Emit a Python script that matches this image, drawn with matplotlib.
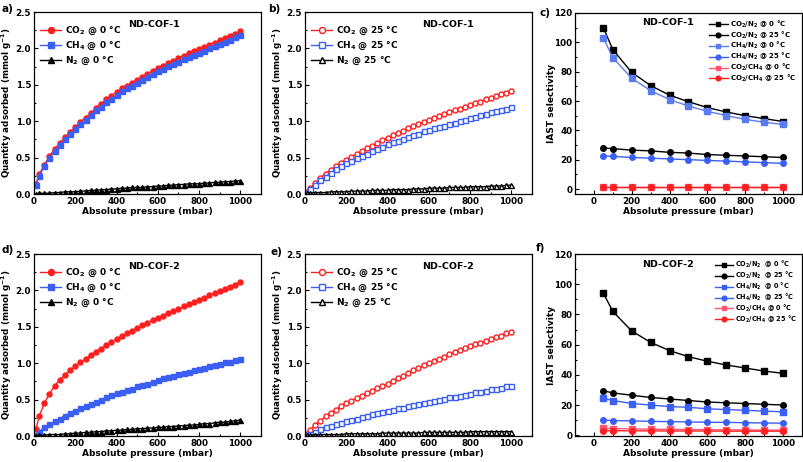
import matplotlib
matplotlib.use("Agg")
import matplotlib.pyplot as plt
from matplotlib.ticker import MultipleLocator, FuncFormatter

plt.rcParams['font.family'] = ['DejaVu Sans']
plt.rcParams['font.weight'] = 'bold'
plt.rcParams['mathtext.default'] = 'bf'

# --- isotherm data (pressure in mbar, uptake in mmol/g) ---
pressure = [10, 25, 50, 75, 100, 125, 150, 175, 200, 225, 250, 275, 300, 325, 350,
            375, 400, 425, 450, 475, 500, 525, 550, 575, 600, 625, 650, 675, 700,
            725, 750, 775, 800, 825, 850, 875, 900, 925, 950, 975, 1000]

cof1_co2_0 = [0.14, 0.27, 0.40, 0.52, 0.62, 0.70, 0.78, 0.85, 0.92, 0.99, 1.05, 1.11, 1.18, 1.24,
              1.30, 1.35, 1.40, 1.45, 1.49, 1.53, 1.57, 1.61, 1.65, 1.69, 1.73, 1.76, 1.80, 1.83,
              1.87, 1.90, 1.93, 1.96, 1.99, 2.02, 2.05, 2.08, 2.11, 2.14, 2.17, 2.20, 2.24]
cof1_ch4_0 = [0.12, 0.25, 0.38, 0.50, 0.59, 0.67, 0.75, 0.82, 0.89, 0.96, 1.02, 1.08, 1.15, 1.20,
              1.26, 1.31, 1.36, 1.41, 1.45, 1.49, 1.53, 1.57, 1.61, 1.65, 1.69, 1.72, 1.76, 1.79,
              1.82, 1.85, 1.88, 1.91, 1.94, 1.97, 2.00, 2.03, 2.06, 2.09, 2.12, 2.15, 2.18]
cof1_n2_0 = [0.00, 0.01, 0.01, 0.01, 0.02, 0.02, 0.03, 0.03, 0.03, 0.04, 0.04, 0.05, 0.05, 0.06,
             0.06, 0.07, 0.07, 0.08, 0.08, 0.09, 0.09, 0.09, 0.10, 0.10, 0.11, 0.11, 0.12, 0.12,
             0.13, 0.13, 0.14, 0.14, 0.14, 0.15, 0.15, 0.16, 0.16, 0.17, 0.17, 0.18, 0.18]

cof1_co2_25 = [0.03, 0.08, 0.15, 0.22, 0.28, 0.33, 0.38, 0.43, 0.47, 0.51, 0.55, 0.59, 0.63, 0.66,
               0.70, 0.74, 0.77, 0.81, 0.84, 0.87, 0.90, 0.93, 0.96, 0.99, 1.02, 1.04, 1.07, 1.10,
               1.12, 1.15, 1.17, 1.20, 1.22, 1.25, 1.27, 1.30, 1.32, 1.34, 1.37, 1.39, 1.42]
cof1_ch4_25 = [0.02, 0.07, 0.13, 0.19, 0.24, 0.29, 0.34, 0.38, 0.42, 0.45, 0.49, 0.52, 0.55, 0.59,
               0.62, 0.65, 0.68, 0.71, 0.73, 0.76, 0.78, 0.81, 0.83, 0.86, 0.88, 0.90, 0.92, 0.94,
               0.96, 0.98, 1.00, 1.02, 1.04, 1.06, 1.08, 1.10, 1.12, 1.14, 1.16, 1.17, 1.19]
cof1_n2_25 = [0.01, 0.01, 0.02, 0.02, 0.02, 0.03, 0.03, 0.03, 0.03, 0.04, 0.04, 0.04, 0.04, 0.05,
              0.05, 0.05, 0.05, 0.06, 0.06, 0.06, 0.06, 0.07, 0.07, 0.07, 0.08, 0.08, 0.08, 0.08,
              0.09, 0.09, 0.09, 0.09, 0.10, 0.10, 0.10, 0.10, 0.11, 0.11, 0.11, 0.12, 0.12]

cof2_co2_0 = [0.10, 0.27, 0.45, 0.58, 0.69, 0.77, 0.84, 0.90, 0.96, 1.01, 1.06, 1.11, 1.16, 1.20,
              1.25, 1.29, 1.33, 1.37, 1.41, 1.44, 1.48, 1.52, 1.55, 1.59, 1.62, 1.65, 1.69, 1.72,
              1.75, 1.78, 1.81, 1.84, 1.87, 1.90, 1.93, 1.96, 1.99, 2.02, 2.05, 2.08, 2.12]
cof2_ch4_0 = [0.02, 0.06, 0.12, 0.16, 0.20, 0.24, 0.28, 0.32, 0.35, 0.38, 0.41, 0.44, 0.47, 0.50,
              0.53, 0.56, 0.59, 0.61, 0.63, 0.65, 0.68, 0.70, 0.72, 0.74, 0.77, 0.79, 0.81, 0.83,
              0.85, 0.87, 0.88, 0.90, 0.92, 0.94, 0.96, 0.98, 0.99, 1.01, 1.02, 1.04, 1.06]
cof2_n2_0 = [0.00, 0.01, 0.01, 0.02, 0.02, 0.02, 0.03, 0.03, 0.04, 0.04, 0.05, 0.05, 0.06, 0.06,
             0.07, 0.07, 0.08, 0.08, 0.09, 0.09, 0.10, 0.10, 0.11, 0.11, 0.12, 0.12, 0.13, 0.13,
             0.14, 0.14, 0.15, 0.15, 0.16, 0.17, 0.17, 0.18, 0.19, 0.19, 0.20, 0.21, 0.22]

cof2_co2_25 = [0.03, 0.08, 0.15, 0.21, 0.27, 0.32, 0.36, 0.41, 0.45, 0.48, 0.52, 0.55, 0.59, 0.62,
               0.66, 0.69, 0.72, 0.76, 0.79, 0.83, 0.86, 0.90, 0.93, 0.97, 1.00, 1.03, 1.06, 1.09,
               1.12, 1.15, 1.18, 1.21, 1.23, 1.26, 1.28, 1.31, 1.33, 1.36, 1.38, 1.41, 1.43]
cof2_ch4_25 = [0.01, 0.03, 0.06, 0.09, 0.12, 0.14, 0.16, 0.18, 0.20, 0.22, 0.24, 0.26, 0.28, 0.30,
               0.32, 0.33, 0.35, 0.36, 0.38, 0.39, 0.41, 0.42, 0.44, 0.45, 0.47, 0.48, 0.50, 0.51,
               0.53, 0.54, 0.55, 0.57, 0.58, 0.60, 0.61, 0.62, 0.64, 0.65, 0.66, 0.68, 0.69]
cof2_n2_25 = [0.01, 0.01, 0.02, 0.02, 0.02, 0.02, 0.02, 0.02, 0.03, 0.03, 0.03, 0.03, 0.03, 0.03,
              0.03, 0.04, 0.04, 0.04, 0.04, 0.04, 0.04, 0.04, 0.04, 0.05, 0.05, 0.05, 0.05, 0.05,
              0.05, 0.05, 0.05, 0.05, 0.06, 0.06, 0.06, 0.06, 0.06, 0.06, 0.06, 0.06, 0.06]

# --- IAST selectivity data ---
sel_pressure = [50, 100, 200, 300, 400, 500, 600, 700, 800, 900, 1000]

cof1_co2n2_0 = [110, 95, 79.5, 70.5, 64, 59.5, 55.5, 52.5, 50, 48, 46]
cof1_co2n2_25 = [28, 27.5, 26.5, 26, 25, 24.5, 23.5, 23, 22.5, 22, 21.5]
cof1_ch4n2_0 = [103, 89.5, 75.5, 67, 61, 56.5, 53, 50, 47.5, 45.5, 44]
cof1_ch4n2_25 = [22.5, 22.3, 21.5, 21, 20.5, 20, 19.5, 19, 18.5, 18, 17.5]
cof1_co2ch4_0 = [1.1, 1.1, 1.1, 1.1, 1.1, 1.1, 1.1, 1.1, 1.1, 1.1, 1.1]
cof1_co2ch4_25 = [1.2, 1.2, 1.2, 1.2, 1.2, 1.2, 1.2, 1.2, 1.2, 1.2, 1.2]

cof2_co2n2_0 = [94, 82, 69, 61.5, 56, 52, 49, 46.5, 44.5, 42.5, 41]
cof2_co2n2_25 = [29.5, 28, 26.5, 25, 24, 23, 22, 21.5, 21, 20.5, 20]
cof2_ch4n2_0 = [24.5, 23, 21, 20, 19, 18.5, 17.5, 17, 16.5, 16, 15.5]
cof2_ch4n2_25 = [10, 9.7, 9.5, 9.2, 9, 8.8, 8.6, 8.5, 8.3, 8.1, 8]
cof2_co2ch4_0 = [4.5, 4.4, 4.2, 4.0, 3.9, 3.8, 3.7, 3.6, 3.5, 3.4, 3.4]
cof2_co2ch4_25 = [3, 3, 2.9, 2.9, 2.8, 2.8, 2.8, 2.7, 2.7, 2.7, 2.7]

RED = '#ff1f1f'
BLUE = '#3b5ef5'
PINK = '#ff5570'
LBLUE = '#5b7cf0'

W, H = 804, 462
fig = plt.figure(figsize=(W / 100, H / 100), dpi=100)


def make_ax(left, top, right, bottom):
    return fig.add_axes([left / W, 1 - bottom / H, (right - left) / W, (bottom - top) / H])


def style_ax(ax):
    ax.tick_params(which='both', direction='in', labelsize=6.3, pad=2)
    ax.tick_params(which='major', length=3, width=0.8)
    ax.tick_params(which='minor', length=1.6, width=0.8)
    for s in ax.spines.values():
        s.set_linewidth(0.9)
    ax.set_xlabel('Absolute pressure (mbar)', fontsize=6.5, fontweight='bold', labelpad=1)


def iso_panel(ax, series, title, tx):
    for y, kw, lab in series:
        ax.plot(pressure, y, lw=1, ms=3.6, label=lab, **kw)
    ax.set_xlim(0, 1100)
    ax.set_ylim(0, 2.5)
    ax.xaxis.set_major_locator(MultipleLocator(200))
    ax.xaxis.set_minor_locator(MultipleLocator(100))
    ax.yaxis.set_major_locator(MultipleLocator(0.5))
    ax.yaxis.set_minor_locator(MultipleLocator(0.25))
    ax.yaxis.set_major_formatter(FuncFormatter(lambda v, p: f'{v:.1f}'))
    style_ax(ax)
    ax.set_ylabel('Quantity adsorbed (mmol g$^{-1}$)', fontsize=6.3, fontweight='bold')
    ax.yaxis.set_label_coords(-0.088, 0.5)
    ax.text(tx, 0.93, title, transform=ax.transAxes, ha='center', va='center',
            fontsize=6.8, fontweight='bold')
    ax.legend(loc='upper left', bbox_to_anchor=(0.0, 0.965), frameon=False, fontsize=6.5,
              handlelength=2.3, handletextpad=0.4, labelspacing=0.3, borderaxespad=0.3,
              markerscale=1.2)


def sel_panel(ax, series, title, ylow, fs):
    for y, kw, lab in series:
        ax.plot(sel_pressure, y, lw=1, ms=4, label=lab, **kw)
    ax.set_xlim(-100, 1100)
    ax.set_ylim(ylow, 120)
    ax.xaxis.set_major_locator(MultipleLocator(200))
    ax.xaxis.set_minor_locator(MultipleLocator(100))
    ax.yaxis.set_major_locator(MultipleLocator(20))
    ax.yaxis.set_minor_locator(MultipleLocator(10))
    style_ax(ax)
    ax.set_ylabel('IAST selectivity', fontsize=6.5, fontweight='bold')
    ax.yaxis.set_label_coords(-0.085, 0.5)
    ax.text(0.41, 0.945, title, transform=ax.transAxes, ha='center', va='center',
            fontsize=6.8, fontweight='bold')
    ax.legend(loc='upper right', bbox_to_anchor=(1.0, 1.0), frameon=False, fontsize=fs,
              handlelength=2.8, handletextpad=0.3, labelspacing=-0.05, borderaxespad=0.4,
              markerscale=0.85)


ax_a = make_ax(34, 12, 261, 194)
iso_panel(ax_a, [
    (cof1_co2_0, dict(color=RED, marker='o'), 'CO$_2$ @ 0 °C'),
    (cof1_ch4_0, dict(color=BLUE, marker='s'), 'CH$_4$ @ 0 °C'),
    (cof1_n2_0, dict(color='black', marker='^'), 'N$_2$ @ 0 °C'),
], 'ND-COF-1', 0.53)

ax_b = make_ax(305, 12, 532, 194)
iso_panel(ax_b, [
    (cof1_co2_25, dict(color=RED, marker='o', mfc='white'), 'CO$_2$ @ 25 °C'),
    (cof1_ch4_25, dict(color=BLUE, marker='s', mfc='white'), 'CH$_4$ @ 25 °C'),
    (cof1_n2_25, dict(color='black', marker='^', mfc='white'), 'N$_2$ @ 25 °C'),
], 'ND-COF-1', 0.63)

ax_d = make_ax(34, 254, 261, 436)
iso_panel(ax_d, [
    (cof2_co2_0, dict(color=RED, marker='o'), 'CO$_2$ @ 0 °C'),
    (cof2_ch4_0, dict(color=BLUE, marker='s'), 'CH$_4$ @ 0 °C'),
    (cof2_n2_0, dict(color='black', marker='^'), 'N$_2$ @ 0 °C'),
], 'ND-COF-2', 0.53)

ax_e = make_ax(305, 254, 532, 436)
iso_panel(ax_e, [
    (cof2_co2_25, dict(color=RED, marker='o', mfc='white'), 'CO$_2$ @ 25 °C'),
    (cof2_ch4_25, dict(color=BLUE, marker='s', mfc='white'), 'CH$_4$ @ 25 °C'),
    (cof2_n2_25, dict(color='black', marker='^', mfc='white'), 'N$_2$ @ 25 °C'),
], 'ND-COF-2', 0.63)

ax_c = make_ax(575, 13, 802, 194)
sel_panel(ax_c, [
    (cof1_co2n2_0, dict(color='black', marker='s'), 'CO$_2$/N$_2$ @ 0 °C'),
    (cof1_co2n2_25, dict(color='black', marker='o'), 'CO$_2$/N$_2$ @ 25 °C'),
    (cof1_ch4n2_0, dict(color=LBLUE, marker='s'), 'CH$_4$/N$_2$ @ 0 °C'),
    (cof1_ch4n2_25, dict(color=BLUE, marker='o'), 'CH$_4$/N$_2$ @ 25 °C'),
    (cof1_co2ch4_0, dict(color=PINK, marker='s'), 'CO$_2$/CH$_4$ @ 0 °C'),
    (cof1_co2ch4_25, dict(color=RED, marker='o'), 'CO$_2$/CH$_4$ @ 25 °C'),
], 'ND-COF-1', -3.4, 5.0)

ax_f = make_ax(575, 254, 802, 436)
sel_panel(ax_f, [
    (cof2_co2n2_0, dict(color='black', marker='s'), 'CO$_2$/N$_2$  @ 0 °C'),
    (cof2_co2n2_25, dict(color='black', marker='o'), 'CO$_2$/N$_2$  @ 25 °C'),
    (cof2_ch4n2_0, dict(color=BLUE, marker='s'), 'CH$_4$/N$_2$  @ 0 °C'),
    (cof2_ch4n2_25, dict(color=BLUE, marker='o'), 'CH$_4$/N$_2$  @ 25 °C'),
    (cof2_co2ch4_0, dict(color=PINK, marker='s'), 'CO$_2$/CH$_4$ @ 0 °C'),
    (cof2_co2ch4_25, dict(color=RED, marker='o'), 'CO$_2$/CH$_4$ @ 25 °C'),
], 'ND-COF-2', -0.5, 4.7)

# panel letters
for lab, x, y in [('a)', 1, 9), ('b)', 268, 9), ('c)', 540, 13),
                  ('d)', 1, 250), ('e)', 271, 252), ('f)', 536, 248)]:
    fig.text(x / W, 1 - y / H, lab, fontsize=7.5, fontweight='bold', ha='left', va='center')

fig.savefig('out.png', dpi=100)
